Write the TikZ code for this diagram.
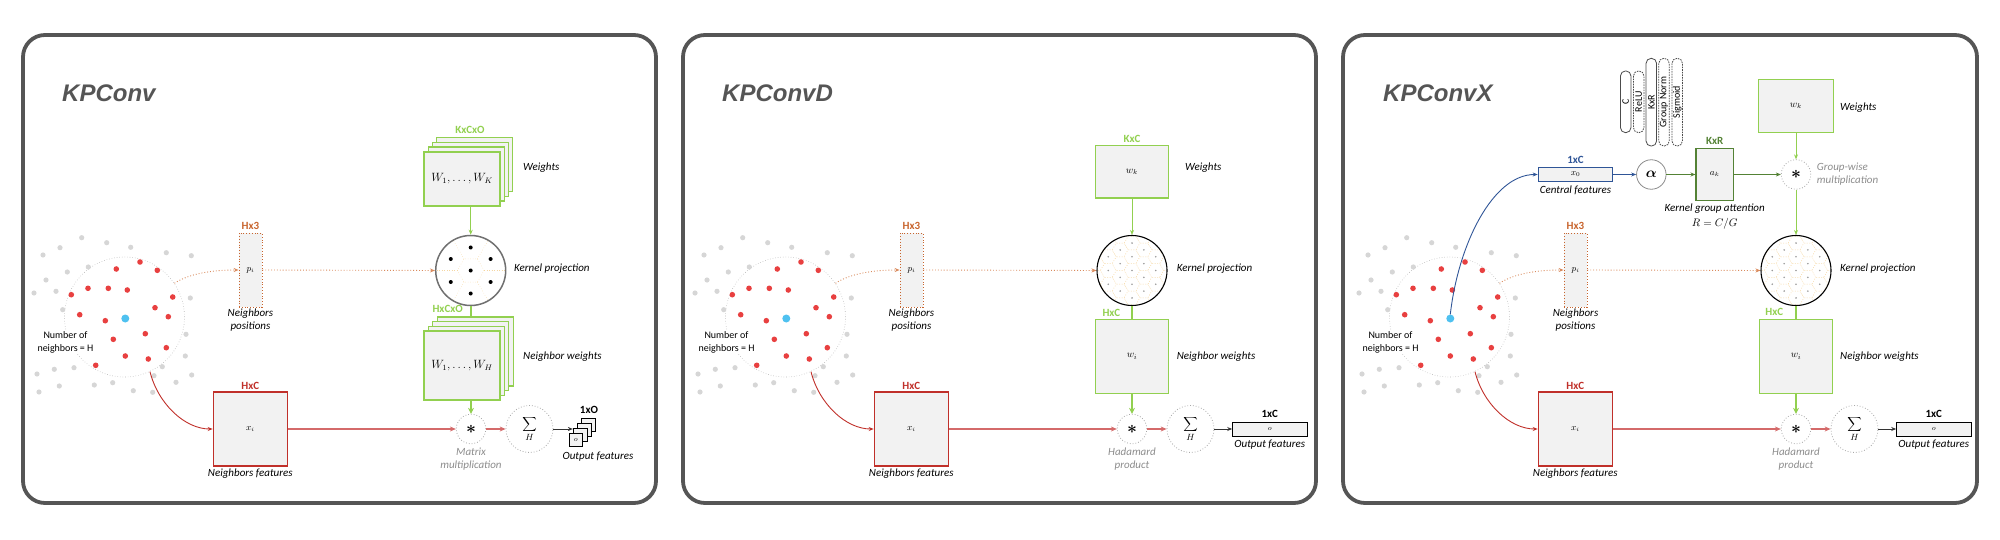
\documentclass[tikz,border=0pt]{standalone}
\usepackage{fontspec}
\setmainfont{Carlito}
\newfontfamily\titlefont{Liberation Sans}
\usetikzlibrary{arrows.meta}

\definecolor{cborder}{HTML}{555555}
\definecolor{cfill}{HTML}{F2F2F2}
\definecolor{coran}{HTML}{C8652E}
\definecolor{coranl}{HTML}{D98A5C}
\definecolor{cred}{HTML}{C0302A}
\definecolor{credl}{HTML}{D46A6A}
\definecolor{cgreen}{HTML}{92D050}
\definecolor{cdgreen}{HTML}{548235}
\definecolor{cblue}{HTML}{2F5597}
\definecolor{creddot}{HTML}{E84040}
\definecolor{cgraydot}{HTML}{D6D6D6}
\definecolor{cbluedot}{HTML}{4FC1F0}
\definecolor{cvoro}{HTML}{F5D6A0}
\definecolor{coptxt}{HTML}{8C8C8C}
\definecolor{copline}{HTML}{A8A8A8}
\definecolor{ccloud}{HTML}{B8B8B8}
\definecolor{ckdot}{HTML}{9A9A9A}
\definecolor{ckring}{HTML}{707070}

\tikzset{
  panelbox/.style={draw=cborder, line width=3.8pt, rounded corners=22pt},
  ptitle/.style={font=\titlefont\bfseries\itshape\fontsize{24}{24}\selectfont, text=cborder, anchor=base west, inner sep=0pt},
  lbl/.style={font=\itshape\fontsize{11}{13}\selectfont, inner sep=0pt, align=center},
  llbl/.style={font=\itshape\fontsize{11}{13}\selectfont, inner sep=0pt, anchor=west, align=left},
  oplbl/.style={lbl, text=coptxt},
  dimlbl/.style={font=\bfseries\fontsize{11}{11}\selectfont, inner sep=0pt},
  cloudc/.style={circle, draw=ccloud, dotted, line width=0.6pt, minimum size=120pt, inner sep=0pt},
  bdot/.style={circle, fill=cbluedot, minimum size=8pt, inner sep=0pt},
  nbtxt/.style={fill=white, font=\fontsize{10}{13}\selectfont, align=center, inner sep=1pt},
  posbox/.style={draw=coran, dotted, line width=0.8pt, fill=cfill, minimum width=23pt, minimum height=74pt, inner sep=0pt, font=\fontsize{9}{9}\selectfont},
  featbox/.style={draw=cred, line width=1.2pt, fill=cfill, minimum width=74pt, minimum height=74pt, inner sep=0pt, font=\fontsize{9}{9}\selectfont},
  gbox/.style={draw=cgreen, line width=1.2pt, fill=cfill, inner sep=0pt},
  obox/.style={draw=black, line width=0.8pt, fill=cfill, inner sep=0pt, font=\fontsize{7}{7}\selectfont},
  opc/.style={circle, draw=copline, dotted, line width=0.8pt, fill=white, inner sep=0pt},
  kerc/.style={circle, minimum size=70pt, inner sep=0pt},
  voro/.style={draw=cvoro, line width=0.5pt, dotted},
  smalltip/.style={-{Stealth[length=5pt,width=4pt]}},
  orarrow/.style={draw=coranl, line width=0.9pt, dotted, smalltip},
  redcurve/.style={draw=cred, line width=0.9pt, smalltip},
  redthick/.style={draw=credl, line width=2pt, -{Stealth[length=6pt,width=5pt]}},
  gthin/.style={draw=cgreen, line width=0.9pt, smalltip},
  gthick/.style={draw=cgreen, line width=2pt},
  gthickarrow/.style={draw=cgreen, line width=2pt, -{Stealth[length=6pt,width=6pt]}},
  blackarrow/.style={draw=black!80, line width=0.9pt, smalltip},
  bluearrow/.style={draw=cblue, line width=0.9pt, smalltip},
  dgarrow/.style={draw=cdgreen, line width=0.9pt, smalltip},
  pill/.style={draw=black!70, line width=0.8pt, rounded corners=5pt, rotate=90, minimum height=10.5pt, inner sep=0pt, font=\fontsize{10}{10}\selectfont},
  dashpill/.style={pill, dash pattern=on 1.6pt off 1pt},
}

\newcommand{\kpcommon}[3]{%
  \node[cloudc] (#1pc) at (124.5,317) {};
  \foreach \x/\y in {81.7/237.7,106.7/242.7,60/247.7,130.7/247.3,166.3/252.7,191.3/255.7,43/255,67.3/272,88.3/267,46/280,56/291.3,34/293,190.3/298,62.7/309.7,186/334.3,185.3/356,37/374,54.3/369.3,74/367.7,162.3/366.7,191.7/375,154/375.7,39/392,59.3/386,94.3/385,112.7/382.7,133.3/390.7,152.7/392.3,176/382.3}
    {\fill[cgraydot] (\x,\y) circle (2.6pt);}
  \foreach \x/\y in {140/262,116.3/269,157.3/270.3,88/288.3,108.3/288.3,127.3/290,71.3/294.7,172.7/297,155/307.7,79.7/314.7,105.3/320.7,168.3/316.7,145.3/333.7,113.3/339.3,166.3/347.7,125.3/356,148.3/359,95.7/365.3}
    {\fill[creddot] (\x,\y) circle (2.8pt);}
  \node[bdot] (#1bd) at (125.3,318.5) {};
  \node[nbtxt] (#1nb) at (65.5,342.5) {Number of\\neighbors = H};
  \node[posbox] (#1pi) at (250.5,270) {$p_i$};
  \node[dimlbl, text=coran] (#1pil) at (250.5,226) {Hx3};
  \node[lbl] (#1pit) at (250.5,320.5) {Neighbors\\positions};
  \node[featbox] (#1xi) at (250.3,429) {$x_i$};
  \node[dimlbl, text=cred] (#1xil) at (250.3,386) {HxC};
  \node[lbl] (#1xit) at (250.3,474) {Neighbors features};
  \node[opc, minimum size=29.5pt, font=\fontsize{16}{16}\selectfont] (#1mul) at (471,429) {{\boldmath$\ast$}};
  \node[oplbl] (#1mult) at (471,459.5) {#2\\#3};
  \node[opc, minimum size=47pt, font=\fontsize{13}{13}\selectfont] (#1sum) at (529.5,429) {$\displaystyle\sum_{H}$};
  \draw[orarrow] (#1pc.34) .. controls +(15,-10) and +(-25,0) .. (#1pi.west);
  \draw[redcurve] (#1pc.-65) .. controls +(8,32) and +(-28,0) .. (#1xi.west);
  \draw[redthick] (#1xi.east) -- (#1mul.west);
  \draw[redthick] (#1mul.east) -- (#1sum.west);
}

\newcommand{\honey}{%
  \begin{scope}
    \clip (0,0) circle (34.3pt);
    \foreach \a in {-3,...,3}{%
      \foreach \b in {-3,...,3}{%
        \pgfmathsetmacro{\px}{\b*11.86}%
        \pgfmathsetmacro{\py}{\a*13.7+\b*6.85}%
        \draw[voro] (\px,\py) ++(0:7.9pt) -- ++(120:7.9pt) -- ++(180:7.9pt) -- ++(240:7.9pt) -- ++(300:7.9pt) -- ++(0:7.9pt) -- cycle;
        \pgfmathtruncatemacro{\inn}{(\px*\px+\py*\py)<961}%
        \ifnum\inn=1 \fill[ckdot] (\px,\py) circle (0.9pt);\fi
      }}
  \end{scope}}

\begin{document}
\begin{tikzpicture}[x=1pt,y=-1pt]
\useasboundingbox (0,0) rectangle (2000,540);

% ---------- panels ----------
\draw[panelbox] (23,35) rectangle (656,503);
\draw[panelbox] (683,35) rectangle (1316,503);
\draw[panelbox] (1343,35) rectangle (1977,503);
\node[ptitle] (t1) at (62,102) {KPConv};
\node[ptitle] (t2) at (722,102) {KPConvD};
\node[ptitle] (t3) at (1383,102) {KPConvX};

% ---------- panel 1: KPConv ----------
\kpcommon{a}{Matrix}{multiplication}
\begin{scope}[shift={(470.7,270.5)}]
  \draw[voro] (0:13.4pt) -- (60:13.4pt) -- (120:13.4pt) -- (180:13.4pt) -- (240:13.4pt) -- (300:13.4pt) -- cycle;
  \foreach \t in {0,60,...,300} {\draw[voro] (\t:13.4pt) -- (\t:34pt);}
  \fill (0,0) circle (2pt);
  \foreach \t in {30,90,...,330} {\fill (\t:23pt) circle (2pt);}
\end{scope}
\node[kerc, draw=ckring, line width=1.5pt] (akc) at (470.7,270.5) {};
\node[llbl] (akct) at (514,269) {Kernel projection};

\foreach \k in {3,2,1} {\node[gbox, minimum width=76pt, minimum height=54pt] (awk\k) at (462+4.2*\k,179-4.9*\k) {};}
\node[gbox, minimum width=76pt, minimum height=54pt, font=\fontsize{12}{12}\selectfont] (awk) at (462,179) {$W_1,\dots,W_K$};
\node[dimlbl, text=cgreen] (awkl) at (470,130) {KxCxO};
\node[llbl] (awkt) at (523,168) {Weights};

\foreach \k in {3,2,1} {\node[gbox, minimum width=76pt, minimum height=69pt] (anw\k) at (462+4.4*\k,365.5-4.7*\k) {};}
\node[gbox, minimum width=76pt, minimum height=69pt, font=\fontsize{12}{12}\selectfont] (anw) at (462,365.5) {$W_1,\dots,W_H$};
\node[dimlbl, text=cgreen] (anwl) at (447.7,309) {HxCxO};
\node[llbl] (anwt) at (523,357) {Neighbor weights};

\foreach \k in {3,2,1} {\node[obox, minimum width=13.7pt, minimum height=13pt] (ao\k) at (575.8+4.3*\k,439.5-5*\k) {};}
\node[obox, minimum width=13.7pt, minimum height=13pt] (ao) at (575.8,439.5) {$o$};
\node[dimlbl] (aol) at (589,410) {1xO};
\node[lbl] (aot) at (598,457) {Output features};

\draw[gthin] (awk.south -| akc.north) -- (akc.north);
\draw[gthick] (akc.south) -- (akc.south |- anw3.north);
\draw[gthickarrow] (anw.south -| amul.north) -- (amul.north);
\draw[orarrow] (api.east) -- (akc.west);
\draw[blackarrow] (asum.east) -- (asum.east -| ao1.west);

% ---------- panel 2: KPConvD ----------
\begin{scope}[shift={(661,0)}]
\kpcommon{b}{Hadamard}{product}
\begin{scope}[shift={(471,270.5)}]\honey\end{scope}
\node[kerc, draw=black, line width=1.1pt] (bkc) at (471,270.5) {};
\node[llbl] (bkct) at (515.6,269) {Kernel projection};
\node[gbox, minimum width=73.7pt, minimum height=52.7pt, font=\fontsize{10}{10}\selectfont] (bwk) at (471,171.7) {$w_k$};
\node[dimlbl, text=cgreen] (bwkl) at (471,139) {KxC};
\node[llbl] (bwkt) at (524,167.7) {Weights};
\node[gbox, minimum width=73.7pt, minimum height=73.6pt, font=\fontsize{10}{10}\selectfont] (bnw) at (471,356.5) {$w_i$};
\node[dimlbl, text=cgreen] (bnwl) at (450.4,313.3) {HxC};
\node[llbl] (bnwt) at (515.6,356.7) {Neighbor weights};
\node[obox, minimum width=74.4pt, minimum height=13.3pt] (bo) at (608.8,429.3) {$o$};
\node[dimlbl] (bol) at (608.8,414) {1xC};
\node[lbl] (bot) at (608.8,444.5) {Output features};
\draw[gthin] (bwk.south) -- (bkc.north);
\draw[gthick] (bkc.south) -- (bnw.north);
\draw[gthickarrow] (bnw.south) -- (bmul.north);
\draw[orarrow] (bpi.east) -- (bkc.west);
\draw[blackarrow] (bsum.east) -- (bsum.east -| bo.west);
\end{scope}

% ---------- panel 3: KPConvX ----------
\begin{scope}[shift={(1325,0)}]
\kpcommon{c}{Hadamard}{product}
\begin{scope}[shift={(471,270.5)}]\honey\end{scope}
\node[kerc, draw=black, line width=1.1pt] (ckc) at (471,270.5) {};
\node[llbl] (ckct) at (515,269) {Kernel projection};
\node[gbox, minimum width=74.3pt, minimum height=53pt, font=\fontsize{10}{10}\selectfont] (cwk) at (471,105.8) {$w_k$};
\node[llbl] (cwkt) at (515,107.7) {Weights};
\node[opc, minimum size=29.5pt, font=\fontsize{16}{16}\selectfont] (cgm) at (471,174.5) {{\boldmath$\ast$}};
\node[oplbl, anchor=west, align=left] (cgmt) at (491.7,174.2) {Group-wise\\multiplication};
\node[gbox, minimum width=73.7pt, minimum height=73.6pt, font=\fontsize{10}{10}\selectfont] (cnw) at (471,356.5) {$w_i$};
\node[dimlbl, text=cgreen] (cnwl) at (449.3,312) {HxC};
\node[llbl] (cnwt) at (515,356.5) {Neighbor weights};
\node[obox, minimum width=74.4pt, minimum height=13.3pt] (co) at (608.8,429.3) {$o$};
\node[dimlbl] (col) at (608.8,414) {1xC};
\node[lbl] (cot) at (608.8,444.5) {Output features};

\node[draw=cblue, line width=1.2pt, fill=cfill, minimum width=74.5pt, minimum height=14pt, inner sep=0pt, font=\fontsize{9}{9}\selectfont] (cx0) at (250.5,174.5) {$x_0$};
\node[dimlbl, text=cblue] (cx0l) at (250.5,160.3) {1xC};
\node[lbl] (cx0t) at (250.5,190.5) {Central features};
\node[circle, draw=black!45, line width=0.8pt, fill=white, minimum size=29.5pt, inner sep=0pt, font=\fontsize{15}{15}\selectfont] (calpha) at (326.3,174.5) {{\boldmath$\alpha$}};
\node[draw=cdgreen, line width=1.2pt, fill=cfill, minimum width=37.3pt, minimum height=52.7pt, inner sep=0pt, font=\fontsize{9}{9}\selectfont] (cak) at (389.7,174.5) {$a_k$};
\node[dimlbl, text=cdgreen] (cakl) at (389.7,140.8) {KxR};
\node[lbl] (cakt) at (389.7,208.5) {Kernel group attention};
\node[font=\fontsize{11}{11}\selectfont, inner sep=0pt] (cakr) at (389.7,224) {$R = C/G$};

\node[pill, minimum width=61.7pt] (cp1) at (300.7,101.8) {C};
\node[dashpill, minimum width=61.7pt] (cp2) at (313.7,101.8) {ReLU};
\node[pill, minimum width=87.7pt] (cp3) at (326.3,102.2) {KxR};
\node[dashpill, minimum width=87.7pt] (cp4) at (339,102.2) {Group Norm};
\node[dashpill, minimum width=87.7pt] (cp5) at (352.2,102.2) {Sigmoid};

\draw[bluearrow] (cbd.north) .. controls +(8,-70) and +(-45,0) .. (cx0.west);
\draw[bluearrow] (cx0.east) -- (calpha.west);
\draw[dgarrow] (calpha.east) -- (cak.west);
\draw[dgarrow] (cak.east) -- (cgm.west);
\draw[gthin] (cwk.south) -- (cgm.north);
\draw[gthin] (cgm.south) -- (ckc.north);
\draw[gthick] (ckc.south) -- (cnw.north);
\draw[gthickarrow] (cnw.south) -- (cmul.north);
\draw[orarrow] (cpi.east) -- (ckc.west);
\draw[blackarrow] (csum.east) -- (csum.east -| co.west);
\end{scope}
\end{tikzpicture}
\end{document}
